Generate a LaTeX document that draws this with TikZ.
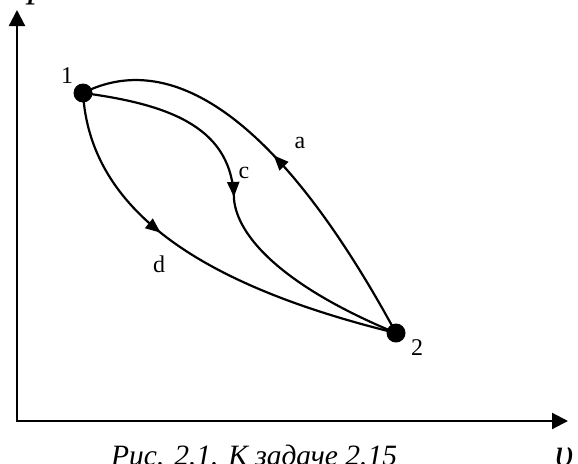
\documentclass[tikz,border=0pt]{standalone}
\usepackage{fontspec}
\setmainfont{Liberation Serif}
\usetikzlibrary{arrows.meta,decorations.markings}
\tikzset{
  axis/.style={line width=2.2pt},
  curve/.style={line width=2.2pt},
  dot/.style={circle,fill=black,inner sep=0pt,minimum size=19pt},
  lbl/.style={anchor=base,inner sep=0pt,font=\fontsize{24}{28}\selectfont},
  axlbl/.style={inner sep=0pt,font=\fontsize{40}{44}\selectfont\itshape},
  arrowat/.style={decoration={markings,mark=at position #1 with {\arrow{Triangle[length=15pt,width=12pt]}}},postaction={decorate}}
}
\begin{document}
\begin{tikzpicture}[x=1pt,y=-1pt]
\useasboundingbox (0,0) rectangle (578,463);
\clip (0,0) rectangle (578,463);
% axes
\coordinate (O) at (17,421);
\coordinate (ytip) at (17,10);
\coordinate (xtip) at (568,421);
\draw[axis,{Triangle[length=16pt,width=16pt]}-{Triangle[length=16pt,width=16pt]}] (ytip) -- (O) -- (xtip);
\node[axlbl,anchor=base west] (plbl) at (28,-4) {p};
\node[axlbl,anchor=base west] (vlbl) at (555,466) {υ};
% points
\node[dot] (p1) at (83,93) {};
\node[dot] (p2) at (396,333) {};
\coordinate (cm) at (234,199);
% curves
\draw[curve,arrowat=0.5] (p2.center) .. controls (275,110) and (168,50) .. (p1.center);
\draw[curve,arrowat=0.99] (p1.center) .. controls (175,105) and (232,130) .. (cm);
\draw[curve] (cm) .. controls (237,235) and (280,285) .. (p2.center);
\draw[curve,arrowat=0.39] (p1.center) .. controls (90,210) and (200,285) .. (p2.center);
% labels
\node[lbl] (l1) at (67,83) {1};
\node[lbl] (l2) at (417,355) {2};
\node[lbl] (la) at (300,148) {a};
\node[lbl] (lc) at (244,178) {c};
\node[lbl] (ld) at (159,272) {d};
% caption
\node[inner sep=0pt,anchor=base west,font=\fontsize{29.5}{33}\selectfont\itshape] (cap) at (111,465) {Рис. 2.1. К задаче 2.15};
\end{tikzpicture}
\end{document}
